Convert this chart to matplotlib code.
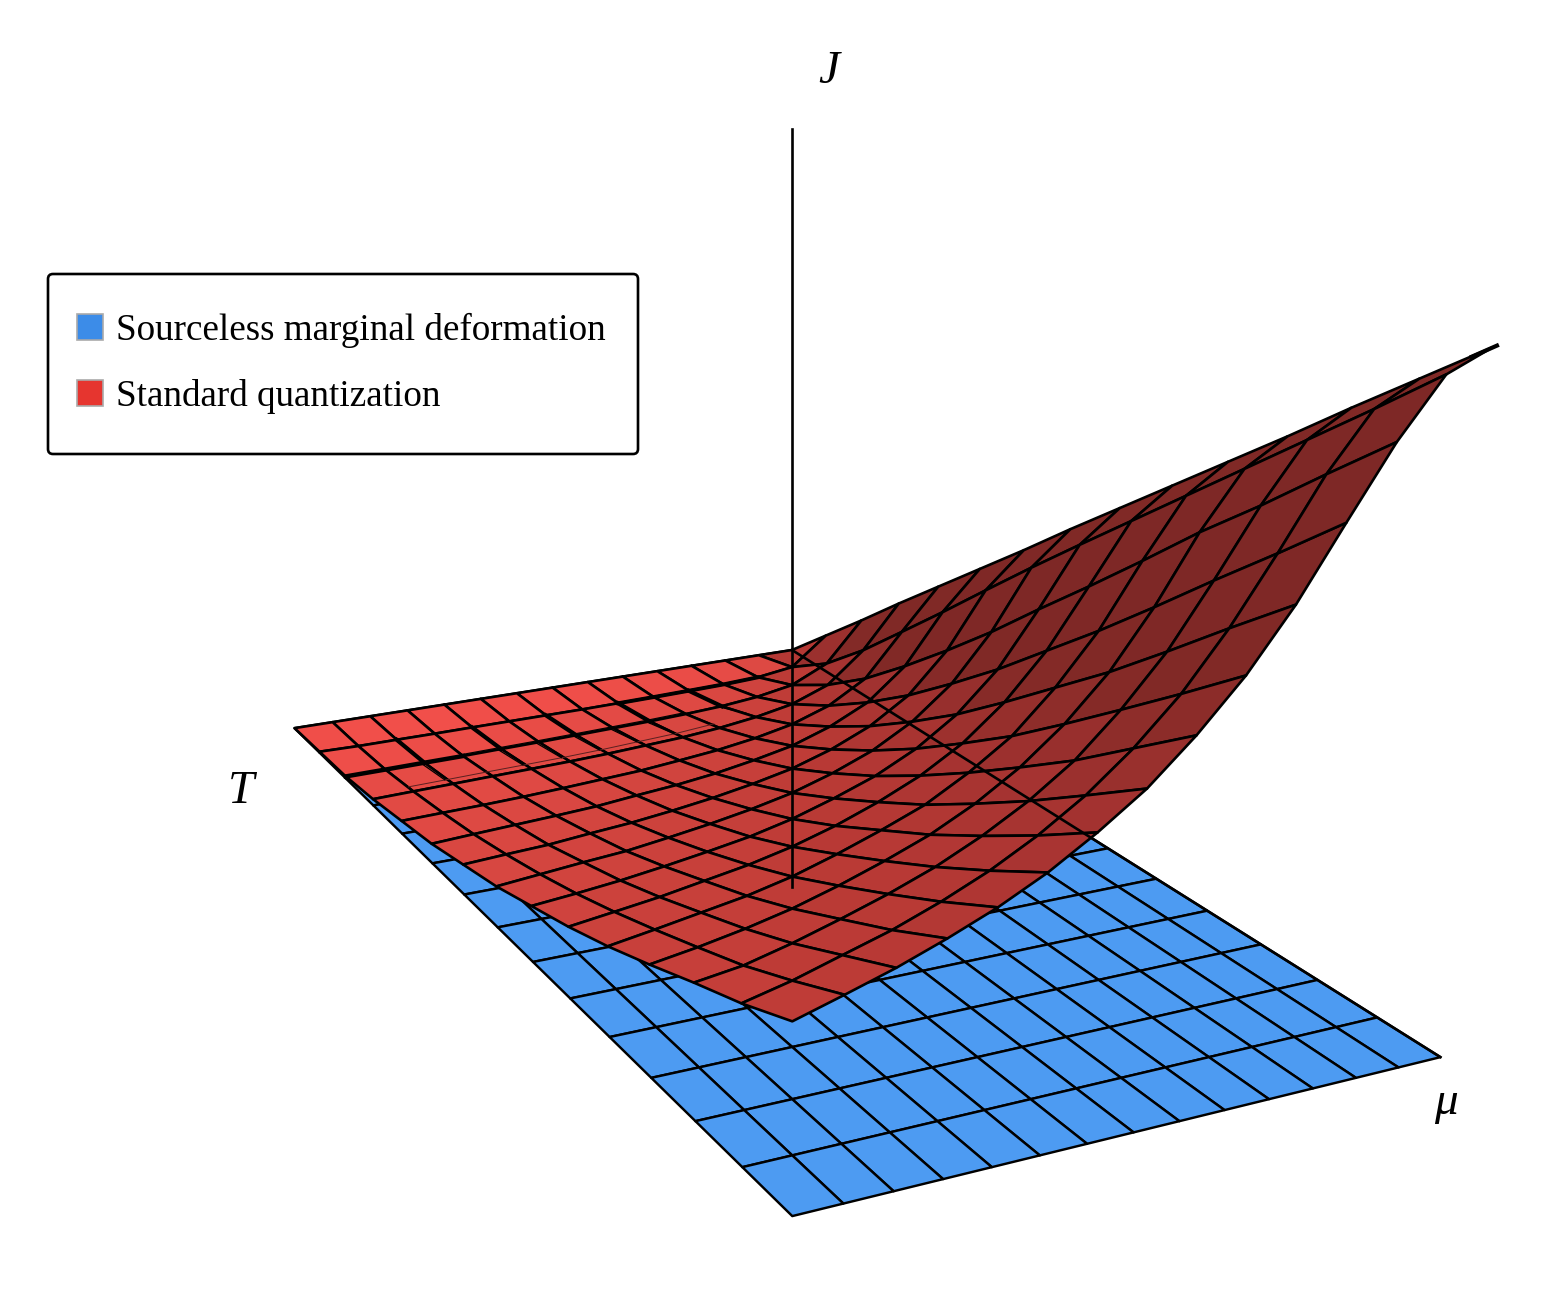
import numpy as np
import matplotlib
matplotlib.use("Agg")
import matplotlib.pyplot as plt
from matplotlib.colors import LinearSegmentedColormap
from matplotlib.patches import FancyBboxPatch, Rectangle

# grid of the surfaces, both axes run over 14 cells
mu_vals = np.arange(15) / 14
T_vals = np.arange(15) / 14

# J of the standard quantization sheet, one row per T
J_std = np.array([
    [0, .038, .076, .115, .153, .191, .229, .268, .306, .344, .382, .420, .459, .497, .535],
    [0, .0101, .0369, .0733, .114, .155, .197, .2385, .279, .319, .359, .399, .439, .479, .520],
    [0, .0051, .0203, .0439, .0737, .109, .1466, .186, .228, .269, .311, .354, .394, .436, .477],
    [0, .0034, .0139, .0304, .0529, .080, .1106, .145, .181, .220, .259, .300, .342, .383, .425],
    [0, .0026, .0103, .0234, .0406, .0629, .0879, .1165, .1474, .182, .218, .254, .293, .333, .372],
    [0, .0019, .0083, .0186, .0331, .0507, .0724, .0965, .1233, .153, .184, .2185, .254, .290, .327],
    [0, .0014, .0069, .0154, .0277, .0432, .0609, .0823, .1056, .1318, .160, .190, .221, .2555, .290],
    [0, .0010, .0060, .0135, .0240, .0370, .0531, .0710, .0925, .1157, .140, .1674, .196, .2267, .258],
    [0, .0009, .0051, .0116, .0206, .0325, .0467, .0630, .0811, .1022, .1257, .1493, .1757, .2034, .233],
    [0, .0008, .0043, .0103, .0186, .0293, .0416, .0565, .0725, .0913, .1128, .1352, .1586, .184, .211],
    [0, .0007, .0037, .0094, .0166, .0257, .0373, .0510, .0662, .0829, .1014, .1226, .1448, .168, .193],
    [0, .0005, .0030, .0086, .0149, .0236, .0343, .0460, .0605, .0765, .0928, .1116, .1328, .1542, .178],
    [0, .0005, .0027, .0077, .0137, .0218, .0309, .0430, .0554, .0701, .0864, .1030, .1217, .1431, .1645],
    [0, .0004, .0023, .0069, .0129, .0200, .0291, .0395, .0514, .0650, .0800, .0959, .1123, .1319, .153],
    [0, .0010, .0020, .0060, .0120, .0180, .0270, .0360, .0480, .0600, .0740, .0900, .1070, .1230, .142],
])
J_axis_range = [-.266, .539]

# numerical glitches of the sheet near mu = 0, as grid indices
thick_T_rows = [4, 6, 8, 10, 12]
spike_T_rows = [4, 6, 7, 8, 9, 10, 12]
tip_mu = [.98, 1.004]
tip_J = [.524, .537]

legend_labels = ["Sourceless marginal deformation", "Standard quantization"]
legend_colors = ["#3c8ce8", "#e6352f"]

W, H = 1556, 1310
fig = plt.figure(figsize=(W / 100, H / 100), dpi=100)

# axes square of 1783 px puts the back corner of the plane at (792, 650)
side = 1783
ax = fig.add_axes([-123.6 / W, -255.6 / H, side / W, side / H], projection="3d")
ax.set_proj_type("persp", focal_length=.3162)
ax.view_init(elev=18.3, azim=63.43)
ax.set_xlim(-1, 1)
ax.set_ylim(-1, 1)
ax.set_zlim(-.6, .6)
ax.set_box_aspect((1.0712, 2.1428, 1.2), zoom=1.406)
ax.computed_zorder = False
ax.set_axis_off()

mu_grid, T_grid = np.meshgrid(mu_vals, T_vals)

ax.plot_surface(T_grid, mu_grid, np.zeros_like(J_std), color="#4d9bf2", shade=False,
                rstride=1, cstride=1, edgecolor="k", linewidth=1.75, zorder=1)

# colour of a cell follows its slope along mu
slope = np.diff(J_std, axis=1)[:-1, :] * 14
slope = (slope + np.diff(J_std, axis=1)[1:, :] * 14) / 2
red_map = LinearSegmentedColormap.from_list("red_side", [
    (0, "#f24f4a"), (.25, "#d54640"), (.5, "#bd3b36"), (.75, "#a23230"), (.92, "#812926"), (1, "#7e2826")])
face = red_map(np.clip(slope / .58, 0, 1))
ax.plot_surface(T_grid, mu_grid, J_std, facecolors=face, shade=False,
                rstride=1, cstride=1, edgecolor="k", linewidth=1.9, zorder=2)

# glitches: heavy mesh pieces and thin spikes in the flat corner
ax.plot(T_vals[2:7], np.full(5, mu_vals[1]), J_std[2:7, 1], color="k", lw=2.8, zorder=2.5)
ax.plot(T_vals[11:], np.full(4, mu_vals[2]), J_std[11:, 2], color="k", lw=3.2, zorder=2.5)
ax.plot(T_vals[5:12], np.full(7, mu_vals[2]) - .004, J_std[5:12, 2], color="k", lw=.8, zorder=2.5)
ax.plot(T_vals[5:14], np.full(9, mu_vals[3]) - .012, J_std[5:14, 3], color="#5a2020", lw=.7, zorder=2.5)
for j in thick_T_rows:
    ax.plot([T_vals[j], T_vals[j]], mu_vals[1:3], J_std[j, 1:3], color="k", lw=3, zorder=2.5)
for j in spike_T_rows:
    ax.plot([T_vals[j] + .006, T_vals[j] + .006], [mu_vals[2], mu_vals[3] - .012],
            J_std[j, 2:4], color="k", lw=.9, zorder=2.5)

# the edge of the plane and the J axis are drawn over the red sheet
ax.plot([0, 0], [0, 1], [0, 0], color="k", lw=1.9, zorder=3)
ax.plot([0, 0], [0, 0], J_axis_range, color="k", lw=1.9, zorder=4)
ax.plot([0, 0], tip_mu, tip_J, color="k", lw=3, zorder=3)

# flat overlay in pixel coordinates for the labels and the legend
ov = fig.add_axes([0, 0, 1, 1], facecolor="none")
ov.set_xlim(0, W)
ov.set_ylim(H, 0)
ov.axis("off")

serif = "Liberation Serif"
ov.text(829, 72, "J", family=serif, style="italic", fontsize=34, ha="center", va="center")
ov.text(241, 792, "T", family=serif, style="italic", fontsize=34, ha="center", va="center")
ov.text(1446, 1103, "\u03bc", family=serif, style="italic", fontsize=34, ha="center", va="center")

ov.add_patch(FancyBboxPatch((53, 279), 580, 170, boxstyle="round,pad=5,rounding_size=5",
                            fc="white", ec="k", lw=1.9))
for y, label, col in zip([327, 393], legend_labels, legend_colors):
    ov.add_patch(Rectangle((77, y - 13), 26, 26, fc=col, ec="#aaaaaa", lw=1.2))
    ov.text(116, y + 3, label, family=serif, fontsize=26.7, ha="left", va="center")

fig.savefig("out.png", dpi=100)
